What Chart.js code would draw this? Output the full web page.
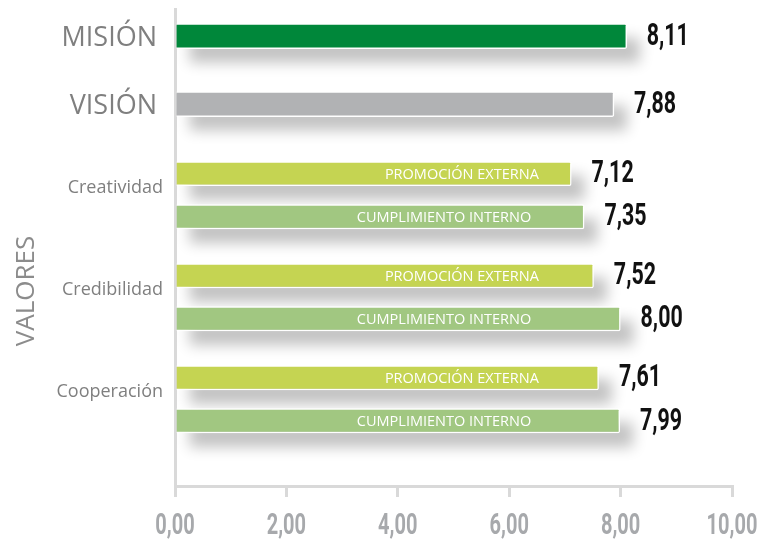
<!DOCTYPE html>
<html>
<head>
<meta charset="utf-8">
<script src="https://cdn.jsdelivr.net/npm/chart.js@4.4.0/dist/chart.umd.min.js"></script>
<style>
  html, body { margin: 0; padding: 0; background: #fff; }
</style>
</head>
<body>
<canvas id="chart" width="759" height="543"></canvas>
<script>
const mainLabels = ["MISIÓN", "VISIÓN"];
const mainScores = [8.11, 7.88];
const mainColors = ["#00873a", "#b1b2b4"];

const valueLabels = ["Creatividad", "Credibilidad", "Cooperación"];
const promocionExterna = [7.12, 7.52, 7.61];
const cumplimientoInterno = [7.35, 8.00, 7.99];

const xTicks = [0, 2, 4, 6, 8, 10];

const fmt = v => v.toFixed(2).replace(".", ",");
const toPoints = arr => arr.map((v, i) => ({ x: v, y: i }));

// condensed bold text: draw normal font squeezed horizontally
function narrowText(ctx, txt, x, y, size, color, align) {
  ctx.save();
  ctx.fillStyle = color;
  ctx.font = "bold " + size + "px Roboto";
  ctx.textBaseline = "middle";
  ctx.textAlign = align;
  ctx.translate(x, y);
  ctx.scale(0.69, 1);
  ctx.fillText(txt, 0, 0);
  ctx.restore();
}

// soft drop shadow under every bar (only the shadow lands on the canvas)
const barShadow = {
  id: "barShadow",
  beforeDatasetsDraw(chart) {
    const ctx = chart.ctx;
    const far = 3000;
    ctx.save();
    ctx.shadowColor = "rgba(0,0,0,0.24)";
    ctx.shadowBlur = 14;
    ctx.shadowOffsetX = 13 + far;
    ctx.shadowOffsetY = 14;
    ctx.fillStyle = "#000";
    chart.data.datasets.forEach((ds, i) => {
      chart.getDatasetMeta(i).data.forEach(bar => {
        const { x, y, base, height } = bar.getProps(["x", "y", "base", "height"], true);
        ctx.fillRect(base - far, y - height / 2, x - base, height);
      });
    });
    ctx.restore();
  }
};

// numbers next to bars + names inside the grouped bars
const barText = {
  id: "barText",
  afterDatasetsDraw(chart) {
    const ctx = chart.ctx;
    const xs = chart.scales.x;
    chart.data.datasets.forEach((ds, i) => {
      chart.getDatasetMeta(i).data.forEach((bar, j) => {
        narrowText(ctx, fmt(ds.data[j].x), bar.x + 20, bar.y + 1, 31, "#111", "left");
        if (ds.innerAt) {
          ctx.save();
          ctx.fillStyle = "#fff";
          ctx.font = "14.5px 'Open Sans'";
          ctx.textAlign = "center";
          ctx.textBaseline = "middle";
          ctx.fillText(ds.label, xs.getPixelForValue(ds.innerAt), bar.y + 1);
          ctx.restore();
        }
      });
    });
  }
};

// x tick labels (condensed) and the rotated VALORES title
const axisText = {
  id: "axisText",
  afterDraw(chart) {
    const ctx = chart.ctx;
    const xs = chart.scales.x;
    xs.ticks.forEach((t, i) => {
      narrowText(ctx, fmt(t.value), xs.getPixelForTick(i), xs.top + 41, 29, "#a7a9ac", "center");
    });
    ctx.save();
    ctx.translate(27, 291);
    ctx.rotate(-Math.PI / 2);
    ctx.fillStyle = "#8c8c8c";
    ctx.font = "26px 'Open Sans'";
    ctx.textAlign = "center";
    ctx.textBaseline = "middle";
    ctx.fillText("VALORES", 0, 0);
    ctx.restore();
  }
};

const fitLeft = s => {
  s.width = 175;
  s.paddingTop = 0;
  s.paddingBottom = 0;
};

const barStyle = {
  borderColor: "#ffffff",
  borderWidth: 1.5,
  borderRadius: 2,
  borderSkipped: "start"
};

new Chart(document.getElementById("chart"), {
  type: "bar",
  data: {
    datasets: [
      Object.assign({
        label: "General",
        data: toPoints(mainScores),
        yAxisID: "yMain",
        backgroundColor: mainColors,
        barThickness: 25,
        grouped: false
      }, barStyle),
      Object.assign({
        label: "PROMOCIÓN EXTERNA",
        data: toPoints(promocionExterna),
        yAxisID: "yValores",
        backgroundColor: "#c5d452",
        categoryPercentage: 1.686,
        barPercentage: 0.58,
        innerAt: 5.15
      }, barStyle),
      Object.assign({
        label: "CUMPLIMIENTO INTERNO",
        data: toPoints(cumplimientoInterno),
        yAxisID: "yValores",
        backgroundColor: "#a1c781",
        categoryPercentage: 1.686,
        barPercentage: 0.58,
        innerAt: 4.83
      }, barStyle)
    ]
  },
  options: {
    indexAxis: "y",
    responsive: false,
    animation: false,
    layout: { padding: { top: 9, right: 27, left: 0, bottom: 0 } },
    plugins: {
      legend: { display: false },
      tooltip: { enabled: false }
    },
    scales: {
      x: {
        type: "linear",
        position: "bottom",
        min: 0,
        max: 10,
        afterBuildTicks: s => { s.ticks = xTicks.map(v => ({ value: v })); },
        afterFit: s => { s.height = 57; },
        grid: { drawOnChartArea: false, drawTicks: true, tickLength: 11, color: "#d9d9d9", lineWidth: 3 },
        border: { color: "#d9d9d9", width: 3 },
        ticks: { display: false }
      },
      yMain: {
        type: "linear",
        position: "left",
        stack: "rows",
        stackWeight: 129,
        weight: 2,
        offset: false,
        reverse: true,
        min: -0.4,
        max: 1.5,
        afterBuildTicks: s => { s.ticks = mainLabels.map((l, i) => ({ value: i })); },
        afterFit: fitLeft,
        grid: { display: false, drawTicks: false },
        border: { color: "#d9d9d9", width: 3 },
        ticks: {
          color: "#7f7f7f",
          padding: 18,
          labelOffset: 2,
          font: { family: "'Open Sans'", size: 27 },
          callback: v => mainLabels[v]
        }
      },
      yValores: {
        type: "linear",
        position: "left",
        stack: "rows",
        stackWeight: 348,
        weight: 1,
        offset: false,
        reverse: true,
        min: -0.56,
        max: 2.85,
        afterBuildTicks: s => { s.ticks = valueLabels.map((l, i) => ({ value: i })); },
        afterFit: fitLeft,
        grid: { display: false, drawTicks: false },
        border: { color: "#d9d9d9", width: 3 },
        ticks: {
          color: "#7f7f7f",
          padding: 12,
          labelOffset: -7,
          font: { family: "'Open Sans'", size: 18 },
          callback: v => valueLabels[v]
        }
      }
    }
  },
  plugins: [barShadow, barText, axisText]
});
</script>
</body>
</html>
